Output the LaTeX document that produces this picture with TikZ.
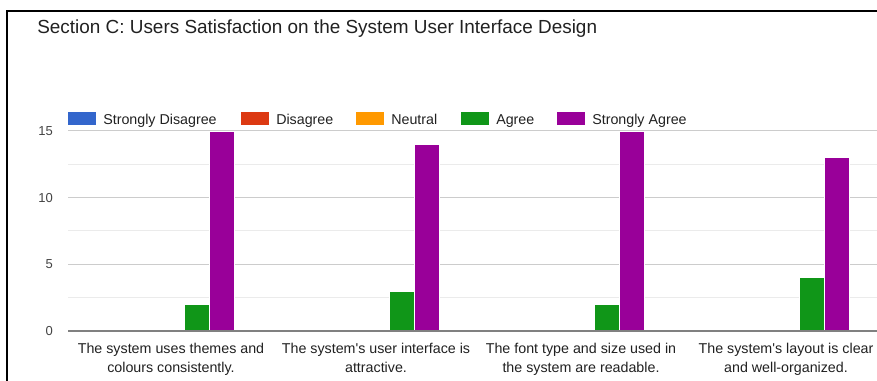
\documentclass[tikz,border=0pt]{standalone}
\usepackage{fontspec}
\setmainfont{Liberation Sans}
\definecolor{sdis}{HTML}{3366CC}
\definecolor{dis}{HTML}{DC3912}
\definecolor{neu}{HTML}{FF9900}
\definecolor{agr}{HTML}{109618}
\definecolor{sagr}{HTML}{990099}
\definecolor{titlegray}{HTML}{212121}
\definecolor{labelgray}{HTML}{444444}
\definecolor{majorgrid}{HTML}{CCCCCC}
\definecolor{minorgrid}{HTML}{EBEBEB}
\tikzset{
  ticklabel/.style={anchor=base east, inner sep=0pt, text=labelgray, font=\fontsize{9.75}{11}\selectfont},
  catlabel/.style={anchor=base, inner sep=0pt, text=titlegray, font=\fontsize{10.7}{12}\selectfont},
  legendlabel/.style={anchor=base west, inner sep=0pt, text=titlegray, font=\fontsize{10.7}{12}\selectfont},
  bar/.style={draw=white, line width=0.4pt}
}
\begin{document}
\begin{tikzpicture}[x=0.75pt,y=0.75pt]
  \useasboundingbox (0,0) rectangle (877,381);
  \fill[white] (0,0) rectangle (877,381);

  % frame and title
  \draw[line width=1.9pt] (7,0) -- (7,370) -- (877,370);
  \node[anchor=base west, inner sep=0pt, text=titlegray, font=\fontsize{14.2}{17}\selectfont] (title) at (37,347)
    {Section C: Users Satisfaction on the System User Interface Design};

  % legend
  \foreach \x/\col/\lab [count=\i] in {68/sdis/Strongly Disagree, 241/dis/Disagree, 356/neu/Neutral, 461/agr/Agree, 557/sagr/Strongly Agree} {
    \fill[\col] (\x,255.5) rectangle (\x+28,268.5);
    \node[legendlabel] (leg\i) at (\x+35,256) {\lab};
  }

  % grid
  \foreach \v in {2.5,7.5,12.5}
    \draw[minorgrid, line width=0.75pt] (68,50+\v*13.333) -- (877,50+\v*13.333);
  \foreach \v in {5,10,15}
    \draw[majorgrid, line width=0.75pt] (68,50+\v*13.333) -- (877,50+\v*13.333);
  \foreach \v in {0,5,10,15}
    \node[ticklabel] (tick\v) at (53,45.5+\v*13.333) {\v};

  % bars: Agree and Strongly Agree
  \foreach \c/\a/\s in {170.5/2/15, 375.5/3/14, 580.5/2/15, 785.5/4/13} {
    \filldraw[agr, bar] (\c+13.5,50) rectangle (\c+38.5,50+\a*13.333);
    \filldraw[sagr, bar] (\c+38.5,50) rectangle (\c+63.5,50+\s*13.333);
  }
  \draw[gray, line width=0.9pt] (68,50) -- (877,50);

  % category labels
  \node[catlabel] (c1a) at (171,27.7) {The system uses themes and};
  \node[catlabel] (c1b) at (171,8.3) {colours consistently.};
  \node[catlabel] (c2a) at (376,27.7) {The system\textquotesingle s user interface is};
  \node[catlabel] (c2b) at (376,8.3) {attractive.};
  \node[catlabel] (c3a) at (581,27.7) {The font type and size used in};
  \node[catlabel] (c3b) at (581,8.3) {the system are readable.};
  \node[catlabel] (c4a) at (786,27.7) {The system\textquotesingle s layout is clear};
  \node[catlabel] (c4b) at (786,8.3) {and well-organized.};
\end{tikzpicture}
\end{document}
